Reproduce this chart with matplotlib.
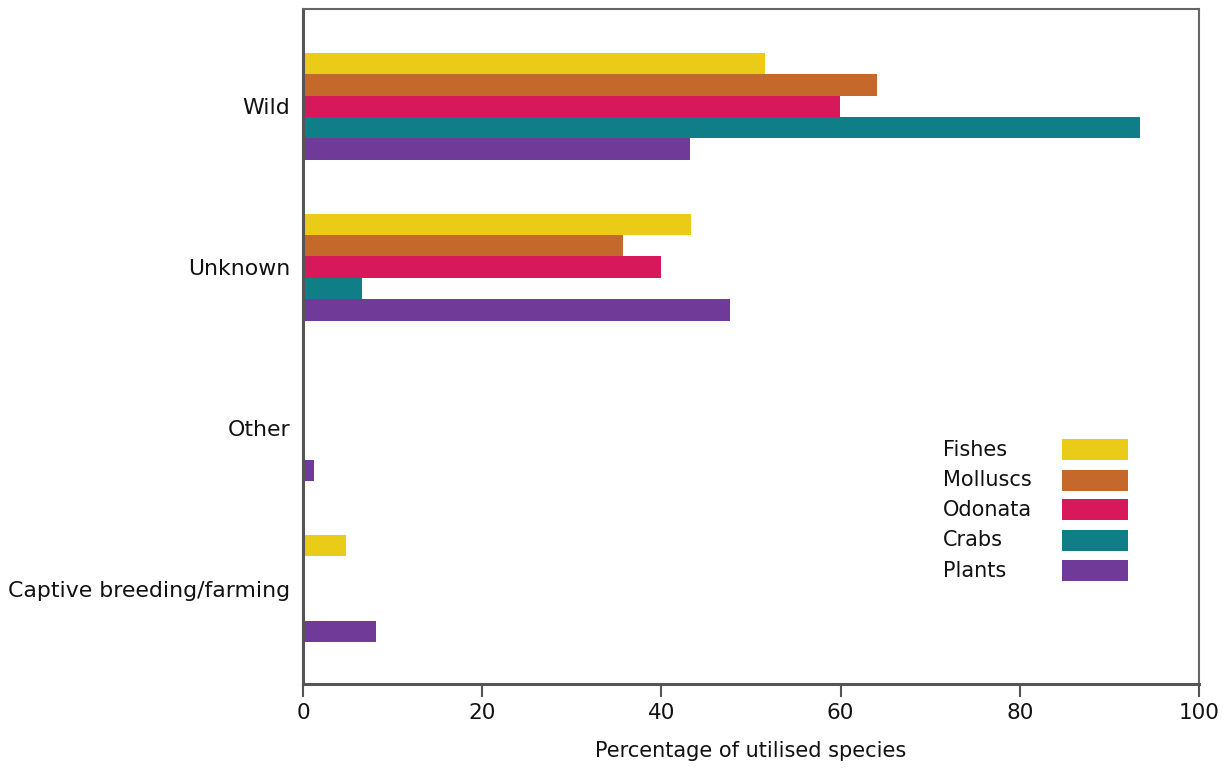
import numpy as np
import matplotlib
matplotlib.use("Agg")
import matplotlib.pyplot as plt
from matplotlib.patches import Rectangle

# source categories, top to bottom
categories = ["Wild", "Unknown", "Other", "Captive breeding/farming"]
series = ["Fishes", "Molluscs", "Odonata", "Crabs", "Plants"]

fishes = [51.6, 43.3, 0.0, 4.8]
molluscs = [64.1, 35.7, 0.0, 0.0]
odonata = [59.9, 40.0, 0.0, 0.0]
crabs = [93.4, 6.6, 0.0, 0.0]
plants = [43.2, 47.7, 1.2, 8.2]

colors = ["#EACB17", "#C5682B", "#D7195B", "#0F7E87", "#703A99"]

plt.rcParams['font.family'] = ['DejaVu Sans']
plt.rcParams['font.size'] = 15

fig = plt.figure(figsize=(12.29, 7.72), dpi=100)
ax = fig.add_axes([0.2465, 0.114, 0.729, 0.8745])

y = np.arange(len(categories))
h = 0.133
values = [fishes, molluscs, odonata, crabs, plants]
for i, (vals, c) in enumerate(zip(values, colors)):
    ax.barh(y + (i - 2) * h, vals, height=h, color=c, linewidth=0)

ax.set_xlim(0, 100)
ax.set_ylim(3.594, -0.607)
ax.set_xticks(range(0, 101, 20))
ax.set_yticks(y)
ax.set_yticklabels(categories, fontsize=15.8)
ax.tick_params(axis='y', length=0, pad=9, colors='#111111')
ax.tick_params(axis='x', length=9, width=1.5, pad=5, color='#555555',
               labelcolor='#111111', labelsize=15.5)
ax.set_xlabel("Percentage of utilised species", fontsize=15, labelpad=13,
              color='#111111')

for side in ['left', 'bottom']:
    ax.spines[side].set_linewidth(2.2)
    ax.spines[side].set_color('#555555')
for side in ['top', 'right']:
    ax.spines[side].set_linewidth(1.5)
    ax.spines[side].set_color('#666666')

# legend: labels on the left, colour boxes on the right
row_y = [0.347, 0.302, 0.258, 0.213, 0.168]
for name, c, ry in zip(series, colors, row_y):
    ax.text(0.714, ry, name, transform=ax.transAxes, ha='left', va='center',
            fontsize=15, color='#111111')
    ax.add_patch(Rectangle((0.847, ry - 0.0155), 0.0735, 0.031,
                           transform=ax.transAxes, color=c, linewidth=0))

plt.savefig("out.png", dpi=100)
